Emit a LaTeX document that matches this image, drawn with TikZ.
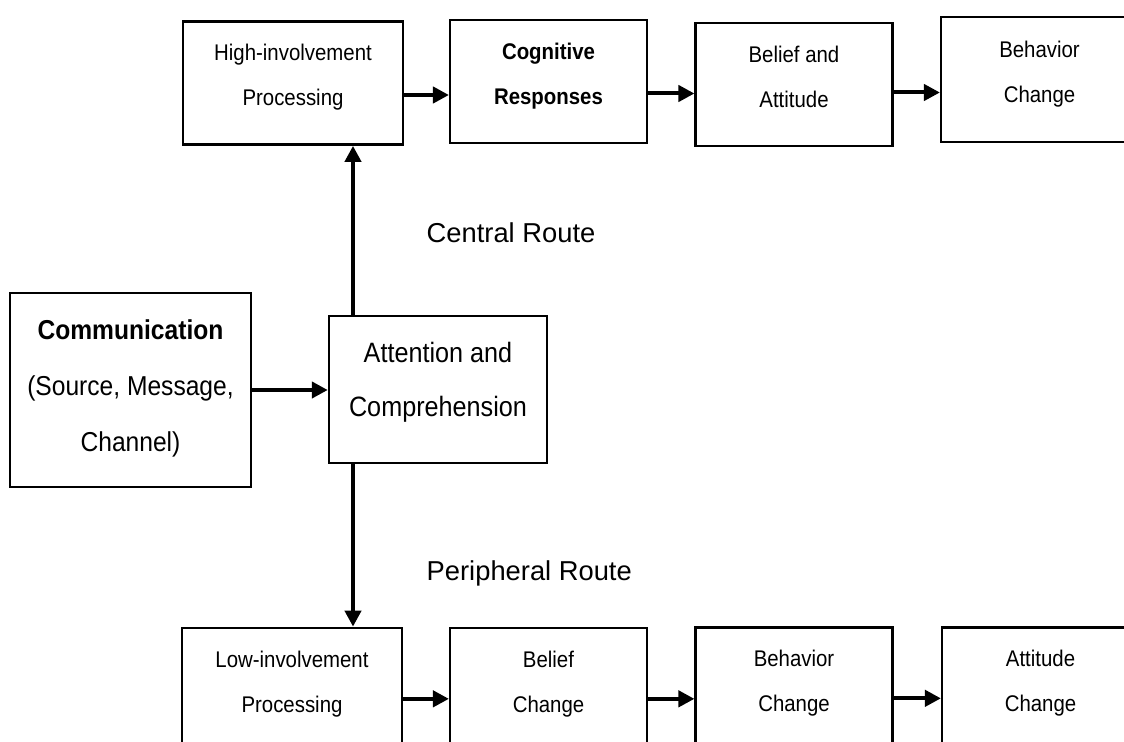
\documentclass[tikz,border=0pt]{standalone}
\usepackage{fontspec}
\setmainfont[FakeStretch=0.9]{Liberation Sans}
\newfontfamily\routefont{Liberation Sans}
\usetikzlibrary{positioning, arrows.meta}

\begin{document}
\begin{tikzpicture}[
    x=0.75pt, y=-0.75pt,
    stage/.style={draw, line width=1.8pt, minimum width=147.5pt, minimum height=92.5pt, inner sep=0pt, align=center, text depth=12pt, font=\fontsize{17}{34}\selectfont},
    involve/.style={stage, minimum width=165pt},
    source/.style={stage, minimum width=180.75pt, minimum height=145.5pt, text depth=6pt, font=\fontsize{20.5}{42}\selectfont},
    attend/.style={stage, minimum width=163.5pt, minimum height=110.25pt, text depth=15pt, font=\fontsize{21}{40}\selectfont},
    route/.style={anchor=west, font=\routefont\fontsize{20.5}{25}\selectfont},
    arr/.style={-{Triangle[length=12pt, width=12pt]}, line width=3pt},
]
\useasboundingbox (0,0) rectangle (1124,742);
\clip (0,0) rectangle (1124,742);

% --- Source and attention ---
\node[source] (comm) at (130.5, 390) {\textbf{Communication}\\(Source, Message,\\Channel)};
\node[attend] (att) at (438, 389.5) {Attention and\\Comprehension};

\draw[arr] (comm.east) -- (comm.east -| att.west);

% --- Central route (top row) ---
\node[involve] (hi) at (293, 83) {High-involvement\\Processing};
\node[stage] (cog) at (548.5, 81.5) {\textbf{Cognitive}\\\textbf{Responses}};
\node[stage] (bel) at (794, 84.5) {Belief and\\Attitude};
\node[stage, minimum height=93.75pt] (beh) at (1039.5, 79.5) {Behavior\\Change};

\draw[arr] ([xshift=-63.75pt]att.north) -- ([xshift=-63.75pt]att.north |- hi.south);
\draw[arr] ([yshift=-9pt]hi.east) -- ([yshift=-9pt]hi.east -| cog.west);
\draw[arr] ([yshift=-9pt]cog.east) -- ([yshift=-9pt]cog.east -| bel.west);
\draw[arr] ([yshift=-6pt]bel.east) -- ([yshift=-6pt]bel.east -| beh.west);

% --- Peripheral route (bottom row) ---
\node[involve] (low) at (292, 689.5) {Low-involvement\\Processing};
\node[stage] (bch) at (548.5, 689.5) {Belief\\Change};
\node[stage] (bhc) at (794, 689) {Behavior\\Change};
\node[stage] (atc) at (1040.5, 689) {Attitude\\Change};

\draw[arr] ([xshift=-63.75pt]att.south) -- ([xshift=-63.75pt]att.south |- low.north);
\draw[arr] ([yshift=-7pt]low.east) -- ([yshift=-7pt]low.east -| bch.west);
\draw[arr] ([yshift=-7pt]bch.east) -- ([yshift=-7pt]bch.east -| bhc.west);
\draw[arr] ([yshift=-7pt]bhc.east) -- ([yshift=-7pt]bhc.east -| atc.west);

% --- Route labels ---
\node[route] (central) at (422, 233) {Central Route};
\node[route] (peripheral) at (422, 573) {Peripheral Route};

\end{tikzpicture}
\end{document}
